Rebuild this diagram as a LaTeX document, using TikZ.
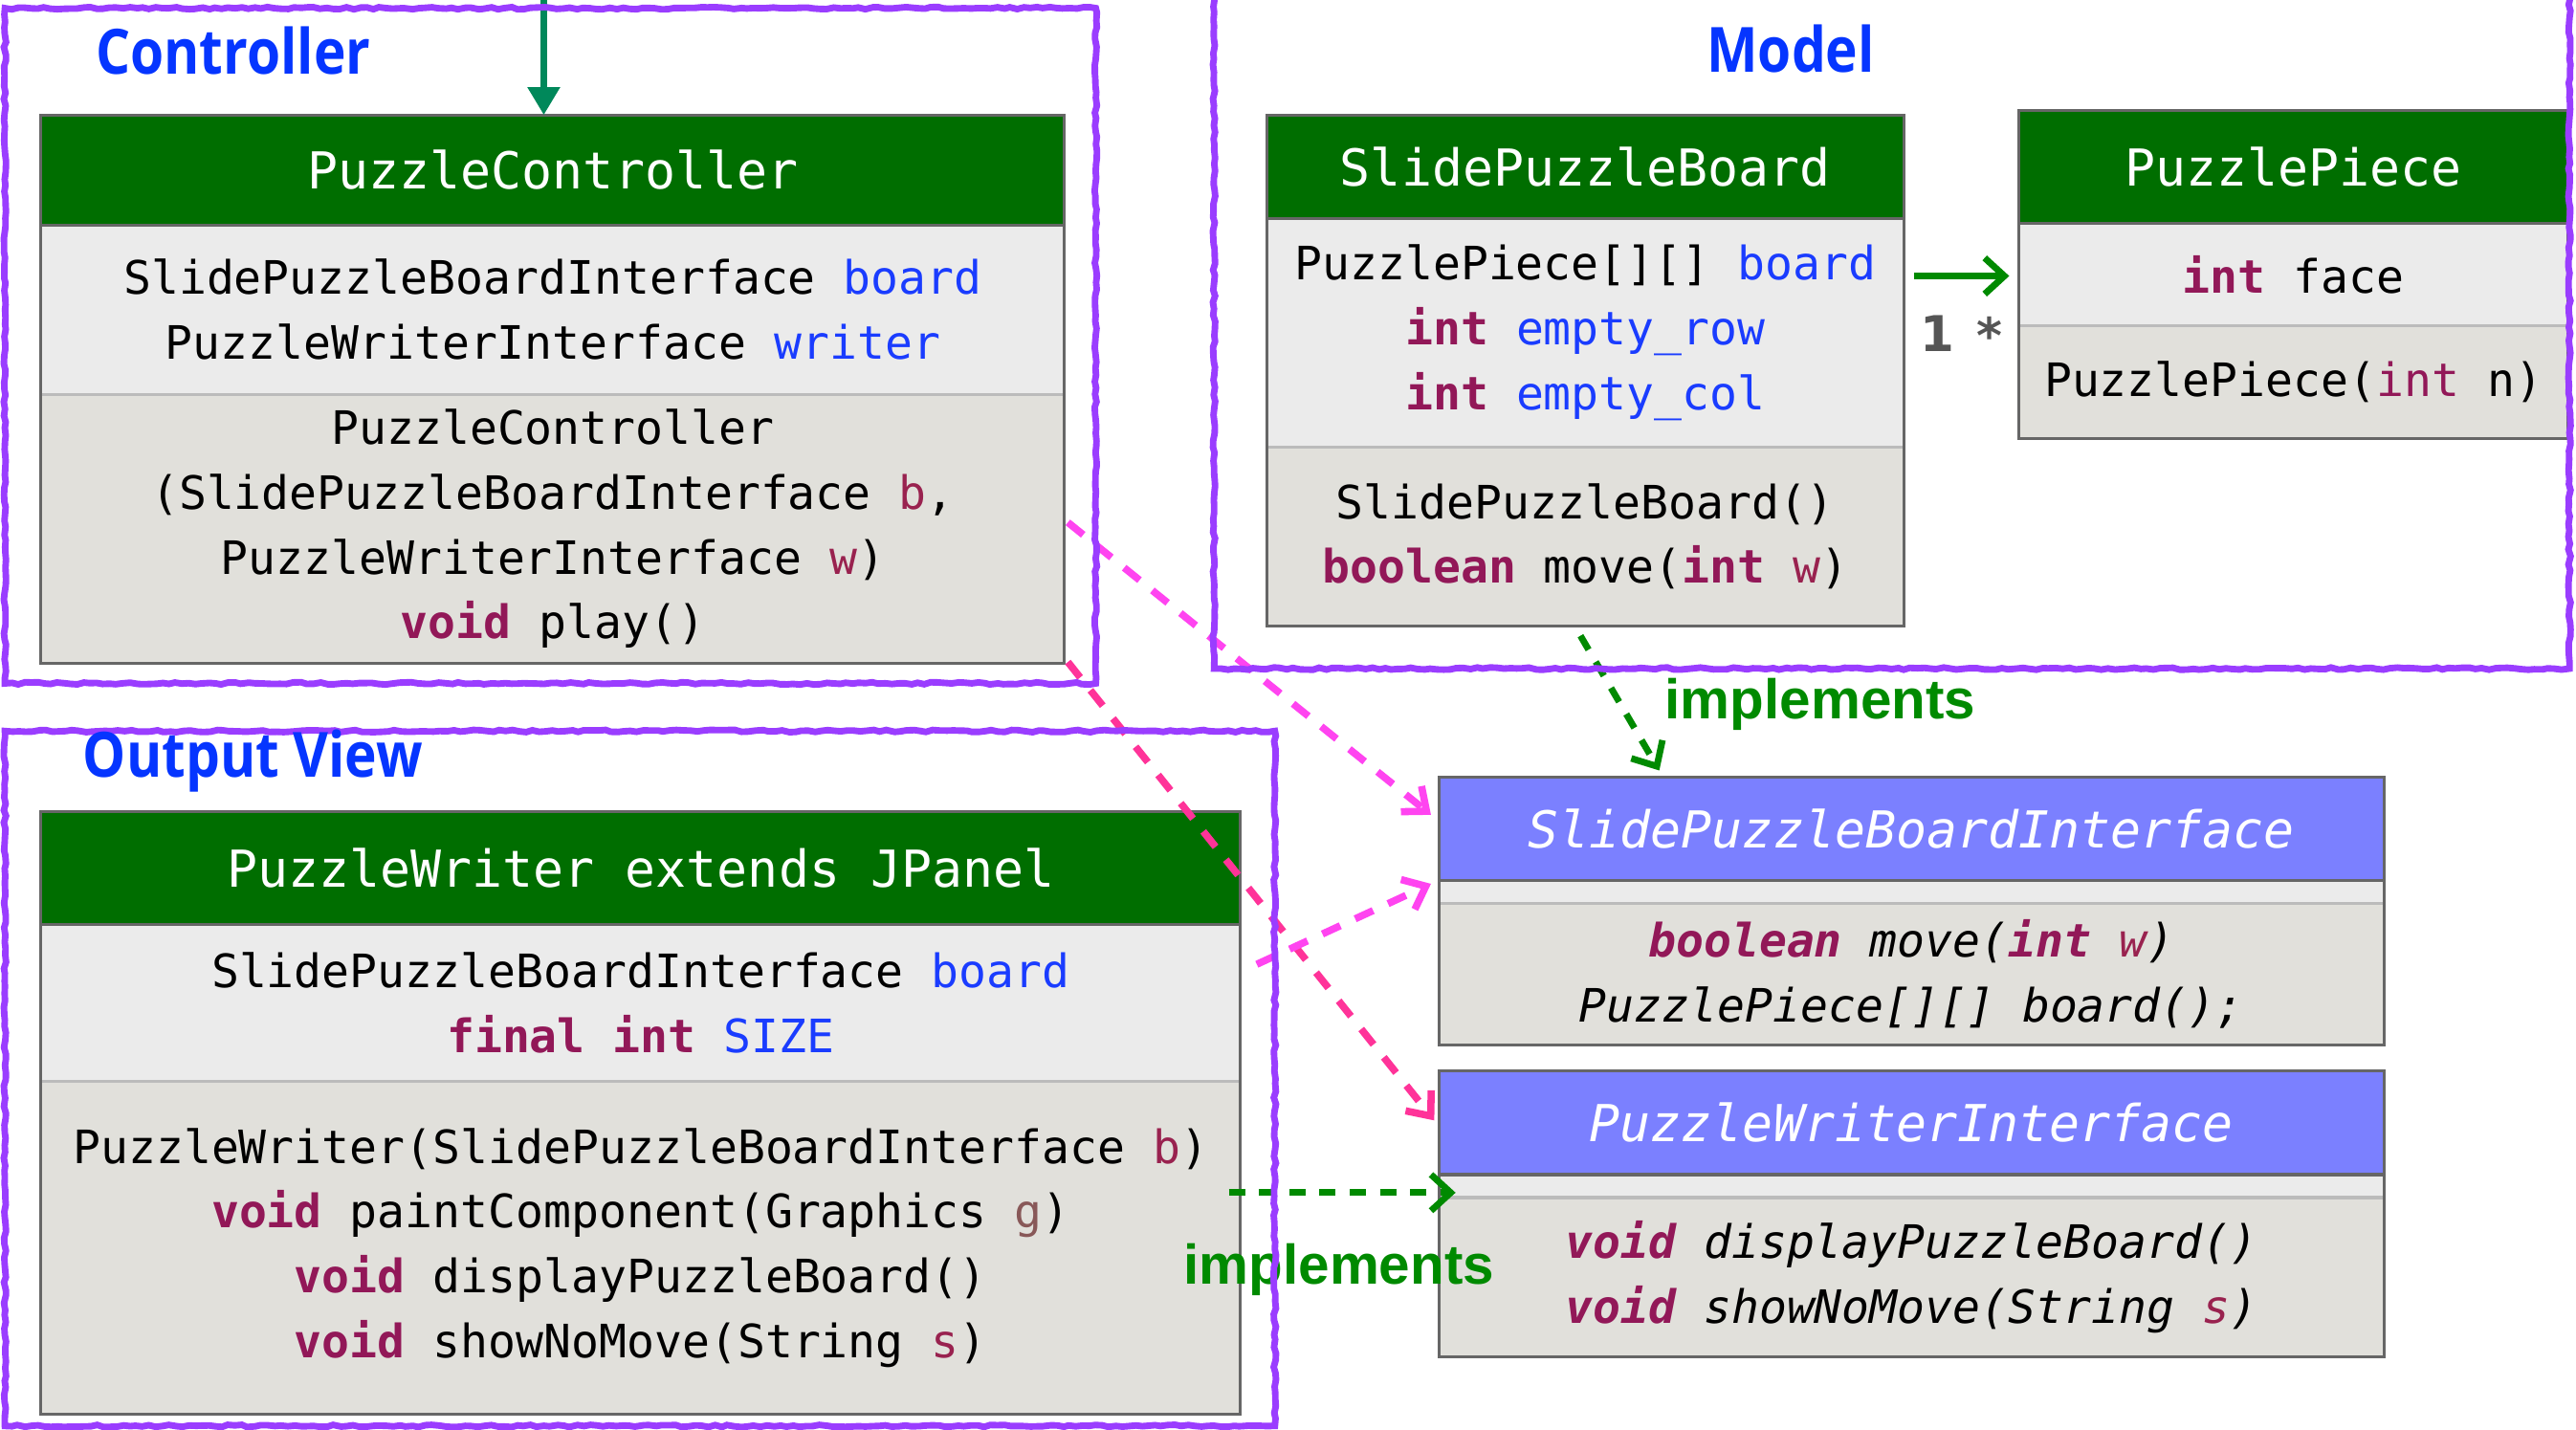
\documentclass[tikz,border=0pt]{standalone}
\usepackage{fontspec}
\usetikzlibrary{arrows.meta,decorations.pathmorphing,calc}

\newfontfamily\umlmono{DejaVu Sans Mono}
\newfontfamily\pkgfont{Open Sans}[FakeStretch=0.87]
\newfontfamily\implfont{Liberation Sans}
\newfontfamily\multfont{DejaVu Sans}

\definecolor{hdrgreen}{HTML}{006E00}
\definecolor{attrgray}{HTML}{EBEBEB}
\definecolor{methgray}{HTML}{E1E0DB}
\definecolor{edgegray}{HTML}{666666}
\definecolor{sepgray}{HTML}{BBBBBB}
\definecolor{ifblue}{HTML}{7B80FF}
\definecolor{pkgpurple}{HTML}{9A3DFF}
\definecolor{lblblue}{HTML}{0535FF}
\definecolor{kwcol}{HTML}{921858}
\definecolor{fldblue}{HTML}{1A3CFF}
\definecolor{prmcol}{HTML}{99224F}
\definecolor{prmgray}{HTML}{885858}
\definecolor{implgreen}{HTML}{008A00}
\definecolor{usemagenta}{HTML}{FF44F0}
\definecolor{usepink}{HTML}{FF3399}
\definecolor{inflow}{HTML}{00885A}
\definecolor{multgray}{HTML}{555555}

\newcommand\umlbody{\umlmono\fontsize{14pt}{19.7pt}\selectfont}
\newcommand\umlhead{\umlmono\fontsize{15.5pt}{18pt}\selectfont}
\newcommand\umlkw[1]{{\color{kwcol}\bfseries #1}}
\newcommand\umlfld[1]{{\color{fldblue}#1}}
\newcommand\umlprm[1]{{\color{prmcol}#1}}

\begin{document}
\begin{tikzpicture}[x=0.5pt,y=-0.5pt,
  cmp/.style={inner sep=0pt, outer sep=0pt, anchor=north west, align=center, font=\umlbody, text=black},
  hdr/.style={cmp, fill=hdrgreen, text=white, font=\umlhead},
  ifhdr/.style={cmp, fill=ifblue, text=white, font=\umlhead\itshape},
  attr/.style={cmp, fill=attrgray},
  meth/.style={cmp, fill=methgray},
  clsline/.style={draw=edgegray, line width=0.9pt},
  sepline/.style={draw=sepgray, line width=0.9pt},
  pkg/.style={draw=pkgpurple, line width=2pt, decorate,
    decoration={random steps, segment length=2pt, amplitude=0.35pt}},
  pkglabel/.style={font=\pkgfont\bfseries\fontsize{19pt}{22pt}\selectfont, text=lblblue},
  impllabel/.style={font=\implfont\bfseries\fontsize{17pt}{20pt}\selectfont, text=implgreen},
  realize/.style={draw=implgreen, line width=2pt, dash pattern=on 4.9pt off 4.3pt,
    -{Straight Barb[length=6pt,width=11pt,line width=2pt]}},
  depend/.style={line width=2.2pt, dash pattern=on 6pt off 5pt,
    -{Straight Barb[length=6pt,width=10pt,line width=2.2pt]}},
  assoc/.style={draw=implgreen, line width=2pt,
    -{Straight Barb[length=6pt,width=11pt,line width=2pt]}},
]
\useasboundingbox (0,0) rectangle (1568,870);

% ---------- PuzzleController ----------
\node[hdr, minimum width=311.5pt, minimum height=33.5pt] (pch) at (25,70) {PuzzleController};
\node[attr, minimum width=311.5pt, minimum height=51.5pt] (pca) at (25,137)
  {SlidePuzzleBoardInterface \umlfld{board}\\PuzzleWriterInterface \umlfld{writer}};
\node[meth, minimum width=311.5pt, minimum height=82pt] (pcm) at (25,240)
  {PuzzleController\\(SlidePuzzleBoardInterface \umlprm{b},\\PuzzleWriterInterface \umlprm{w})\\\umlkw{void} play()};
\draw[sepline] (pca.south west) -- (pca.south east);
\draw[clsline] (pch.south west) -- (pch.south east);
\draw[clsline] (pch.north west) rectangle (pcm.south east);

% ---------- SlidePuzzleBoard ----------
\node[hdr, minimum width=194pt, minimum height=31.5pt] (spbh) at (771,70) {SlidePuzzleBoard};
\node[attr, minimum width=194pt, minimum height=69.5pt] (spba) at (771,133)
  {PuzzlePiece[][] \umlfld{board}\\\umlkw{int} \umlfld{empty\_row}\\\umlkw{int} \umlfld{empty\_col}};
\node[meth, minimum width=194pt, minimum height=54.5pt] (spbm) at (771,272)
  {SlidePuzzleBoard()\\\umlkw{boolean} move(\umlkw{int} \umlprm{w})};
\draw[sepline] (spba.south west) -- (spba.south east);
\draw[clsline] (spbh.south west) -- (spbh.south east);
\draw[clsline] (spbh.north west) rectangle (spbm.south east);

% ---------- PuzzlePiece ----------
\node[hdr, minimum width=167pt, minimum height=34.5pt] (pph) at (1229,67) {PuzzlePiece};
\node[attr, minimum width=167pt, minimum height=31pt] (ppa) at (1229,136)
  {\umlkw{int} face};
\node[meth, minimum width=167pt, minimum height=34.5pt] (ppm) at (1229,198)
  {PuzzlePiece({\color{kwcol}int} n)};
\draw[sepline] (ppa.south west) -- (ppa.south east);
\draw[clsline] (pph.south west) -- (pph.south east);
\draw[clsline] (pph.north west) rectangle (ppm.south east);

% ---------- PuzzleWriter ----------
\node[hdr, minimum width=365pt, minimum height=34.5pt] (pwh) at (25,494) {PuzzleWriter extends JPanel};
\node[attr, minimum width=365pt, minimum height=47.5pt] (pwa) at (25,563)
  {SlidePuzzleBoardInterface \umlfld{board}\\\umlkw{final} \umlkw{int} \umlfld{SIZE}};
\node[meth, minimum width=365pt, minimum height=101.5pt] (pwm) at (25,658)
  {PuzzleWriter(SlidePuzzleBoardInterface \umlprm{b})\\
   \umlkw{void} paintComponent(Graphics {\color{prmgray}g})\\
   \umlkw{void} displayPuzzleBoard()\\
   \umlkw{void} showNoMove(String \umlprm{s})};
\draw[sepline] (pwa.south west) -- (pwa.south east);
\draw[clsline] (pwh.south west) -- (pwh.south east);
\draw[clsline] (pwh.north west) rectangle (pwm.south east);

% ---------- SlidePuzzleBoardInterface ----------
\node[ifhdr, minimum width=287.5pt, minimum height=31.5pt] (spbih) at (876,473) {SlidePuzzleBoardInterface};
\node[attr, minimum width=287.5pt, minimum height=7pt] (spbia) at (876,536) {};
\node[meth, minimum width=287.5pt, minimum height=43pt, font=\umlbody\itshape] (spbim) at (876,550)
  {\umlkw{boolean} move(\umlkw{int} \umlprm{w})\\PuzzlePiece[][] board();};
\draw[sepline] (spbia.south west) -- (spbia.south east);
\draw[clsline] (spbih.south west) -- (spbih.south east);
\draw[clsline] (spbih.north west) rectangle (spbim.south east);

% ---------- PuzzleWriterInterface ----------
\node[ifhdr, minimum width=287.5pt, minimum height=31.5pt] (pwih) at (876,652) {PuzzleWriterInterface};
\node[attr, minimum width=287.5pt, minimum height=7pt] (pwia) at (876,715) {};
\node[meth, minimum width=287.5pt, minimum height=48.5pt, font=\umlbody\itshape] (pwim) at (876,729)
  {\umlkw{void} displayPuzzleBoard()\\\umlkw{void} showNoMove(String \umlprm{s})};
\draw[sepline] (pwia.south west) -- (pwia.south east);
\draw[clsline] (pwih.south west) -- (pwih.south east);
\draw[clsline] (pwih.north west) rectangle (pwim.south east);

% ---------- connectors ----------
\coordinate (ctltop) at (331,-4);
\draw[draw=inflow, line width=2pt, -{Triangle[length=8.5pt,width=9.5pt]}]
  (ctltop) -- ([xshift=-2.75pt]pch.north);

\draw[assoc] ([xshift=3pt,yshift=17.25pt]spba.east) -- ([xshift=-3pt,yshift=-0.5pt]ppa.west);
\node[font=\multfont\bfseries\fontsize{15pt}{18pt}\selectfont, text=multgray] (mone) at (1179,203) {1};
\node[font=\multfont\bfseries\fontsize{15pt}{18pt}\selectfont, text=multgray] (mmany) at (1211,204) {*};

\draw[depend, draw=usemagenta] ([xshift=1pt,yshift=2pt]pcm.east) -- ([xshift=-2.5pt,yshift=4.25pt]spbih.west);
\draw[depend, draw=usepink] ([xshift=1pt,yshift=0.5pt]pcm.south east) -- ([xshift=-1.5pt,yshift=0.75pt]pwih.west);
\draw[depend, draw=usemagenta] ([xshift=5pt,yshift=11.75pt]pwa.east) -- ([xshift=-2.5pt,yshift=-1pt]spbih.south west);

\draw[realize] ([xshift=-1.5pt,yshift=-3pt]spbm.south) -- ([xshift=67pt,yshift=2pt]spbih.north west);
\node[impllabel] (impa) at (1108,429) {implements};
\draw[realize] ([xshift=-3.5pt,yshift=16.75pt]pwm.east) -- ([xshift=5pt,yshift=-2pt]pwia.west);
\node[impllabel] (impb) at (815,773) {implements};

% ---------- packages ----------
\draw[pkg] (3,5) rectangle (667,416);
\node[pkglabel] (lctl) at (142,31) {Controller};
\draw[pkg] (739,-12) rectangle (1564,407);
\node[pkglabel] (lmod) at (1090,30) {Model};
\draw[pkg] (3,445) rectangle (776,868);
\node[pkglabel] (lview) at (154,463) {Output View};
\end{tikzpicture}
\end{document}
